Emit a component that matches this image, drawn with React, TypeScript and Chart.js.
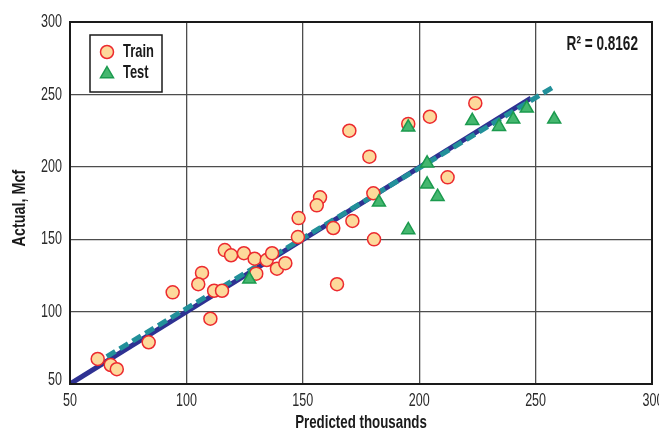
import React, { useEffect, useRef } from "react";
import { Chart, registerables } from "chart.js";

Chart.register(...registerables);

const trainX = [61.9, 67.5, 70.1, 83.8, 94.1, 106.7, 105.1, 110.3, 111.9, 115.3, 116.5, 119.2, 124.7, 129.3, 130.0, 134.5, 136.8, 138.9, 142.5, 147.9, 148.2, 163.1, 171.3, 157.4, 156.0, 180.3, 180.6, 164.7, 170.0, 178.6, 195.3, 204.6, 224.1, 212.2];
const trainY = [67.3, 63.1, 60.2, 78.8, 113.3, 126.7, 118.9, 95.1, 114.4, 114.4, 142.5, 138.9, 140.3, 136.5, 126.2, 135.6, 140.3, 129.6, 133.4, 151.5, 164.6, 157.7, 162.6, 178.9, 173.4, 181.7, 149.9, 118.9, 224.9, 207.0, 229.6, 234.6, 243.9, 192.7];
const testX = [127.0, 182.7, 195.3, 195.3, 203.4, 203.4, 207.9, 222.8, 234.3, 240.4, 246.2, 258.0];
const testY = [122.3, 175.5, 156.4, 227.3, 202.4, 187.9, 179.4, 231.8, 227.7, 232.8, 240.4, 232.8];
const oneToOneX = [50, 248];
const oneToOneY = [50, 247.5];
const trendX = [65.8, 258.3];
const trendY = [68.9, 255.8];
const xTicks = [50, 100, 150, 200, 250, 300];
const yTicks = [50, 100, 150, 200, 250, 300];
const xTitle = "Predicted thousands";
const yTitle = "Actual, Mcf";
const r2Label = "R\u00B2 = 0.8162";
const legendLabels = ["Train", "Test"];

const FONT = "'Liberation Sans', Arial, sans-serif";

const pts = (xs: number[], ys: number[]) => xs.map((x, i) => ({ x, y: ys[i] }));

function text(
  ctx: CanvasRenderingContext2D,
  s: string,
  x: number,
  y: number,
  o: { size: number; bold?: boolean; sx: number; align: CanvasTextAlign; rot?: number; color?: string }
) {
  ctx.save();
  ctx.translate(x, y);
  if (o.rot) ctx.rotate(o.rot);
  ctx.scale(o.sx, 1);
  ctx.font = `${o.bold ? "bold " : ""}${o.size}px ${FONT}`;
  ctx.fillStyle = o.color || "#1a1a1a";
  ctx.textAlign = o.align;
  ctx.textBaseline = "middle";
  ctx.fillText(s, 0, 0);
  ctx.restore();
}

const overlayPlugin = {
  id: "overlay",
  afterDraw(chart: any) {
    const { ctx, chartArea } = chart;
    const xs = chart.scales.x;
    const ys = chart.scales.y;
    ctx.save();
    ctx.strokeStyle = "#1a1a1a";
    ctx.lineWidth = 2;
    ctx.strokeRect(chartArea.left, chartArea.top, chartArea.right - chartArea.left, chartArea.bottom - chartArea.top);
    ys.ticks.forEach((t: any) => {
      text(ctx, String(t.value), chartArea.left - 8, ys.getPixelForValue(t.value) + (t.value === 50 ? -4 : 0), { size: 19, sx: 0.66, align: "right", color: "#2a2a2a" });
    });
    xs.ticks.forEach((t: any) => {
      text(ctx, String(t.value), xs.getPixelForValue(t.value) + (t.value === 300 ? 1 : 0), chartArea.bottom + 17, { size: 19, sx: 0.66, align: "center", color: "#2a2a2a" });
    });
    text(ctx, xTitle, (chartArea.left + chartArea.right) / 2, chartArea.bottom + 39, { size: 18, bold: true, sx: 0.74, align: "center" });
    text(ctx, yTitle, 20, (chartArea.top + chartArea.bottom) / 2 + 5, { size: 18, bold: true, sx: 0.8, align: "center", rot: -Math.PI / 2 });
    const bx = chartArea.left + 20, by = chartArea.top + 13, bw = 72, bh = 57;
    ctx.fillStyle = "#ffffff";
    ctx.fillRect(bx, by, bw, bh);
    ctx.lineWidth = 1.5;
    ctx.strokeStyle = "#1a1a1a";
    ctx.strokeRect(bx, by, bw, bh);
    const ds0 = chart.data.datasets[0];
    const ds1 = chart.data.datasets[1];
    ctx.beginPath();
    ctx.arc(bx + 17, by + 17, 6.5, 0, Math.PI * 2);
    ctx.fillStyle = ds0.backgroundColor;
    ctx.fill();
    ctx.lineWidth = 1.5;
    ctx.strokeStyle = ds0.borderColor;
    ctx.stroke();
    const tx = bx + 17, ty = by + 39, r = 7.5;
    ctx.beginPath();
    ctx.moveTo(tx, ty - r);
    ctx.lineTo(tx + r * 0.866, ty + r * 0.5);
    ctx.lineTo(tx - r * 0.866, ty + r * 0.5);
    ctx.closePath();
    ctx.fillStyle = ds1.backgroundColor;
    ctx.fill();
    ctx.strokeStyle = ds1.borderColor;
    ctx.stroke();
    text(ctx, legendLabels[0], bx + 33, by + 17, { size: 19, bold: true, sx: 0.68, align: "left" });
    text(ctx, legendLabels[1], bx + 33, by + 38, { size: 19, bold: true, sx: 0.68, align: "left" });
    text(ctx, r2Label, chartArea.right - 14, chartArea.top + 22, { size: 20, bold: true, sx: 0.68, align: "right" });
    ctx.restore();
  },
};

export default function App() {
  const ref = useRef<HTMLCanvasElement>(null);
  useEffect(() => {
    if (!ref.current) return;
    const chart = new Chart(ref.current, {
      type: "scatter",
      data: {
        datasets: [
          {
            label: legendLabels[0],
            data: pts(trainX, trainY),
            backgroundColor: "#FDD99B",
            borderColor: "#EC2A2F",
            borderWidth: 1.5,
            pointRadius: 6.5,
            pointHoverRadius: 6.5,
            order: 1,
          },
          {
            label: legendLabels[1],
            data: pts(testX, testY),
            backgroundColor: "#45B76F",
            borderColor: "#1B9A4E",
            borderWidth: 1.5,
            pointStyle: "triangle",
            pointRadius: 7.5,
            pointHoverRadius: 7.5,
            order: 0,
          },
          {
            label: "trend",
            data: pts(trendX, trendY),
            showLine: true,
            borderColor: "#22909A",
            borderWidth: 5,
            borderDash: [10, 5],
            pointRadius: 0,
            order: 2,
          },
          {
            label: "1:1",
            data: pts(oneToOneX, oneToOneY),
            showLine: true,
            borderColor: "#2E3192",
            borderWidth: 5,
            pointRadius: 0,
            order: 3,
          },
        ] as any,
      },
      options: {
        animation: false,
        responsive: false,
        devicePixelRatio: 1,
        layout: { padding: { top: 22, right: 28, left: 0, bottom: 0 } },
        plugins: { legend: { display: false }, tooltip: { enabled: false } },
        scales: {
          x: {
            type: "linear",
            min: 50,
            max: 300,
            afterBuildTicks: (s: any) => { s.ticks = xTicks.map((v) => ({ value: v })); },
            afterFit: (s: any) => { s.height = 48; s.paddingLeft = 0; s.paddingRight = 0; },
            grid: { color: "#4d4d4d", lineWidth: 1.3, drawTicks: false },
            border: { display: false },
            ticks: { display: false },
            title: { display: false },
          },
          y: {
            type: "linear",
            min: 50,
            max: 300,
            afterBuildTicks: (s: any) => { s.ticks = yTicks.map((v) => ({ value: v })); },
            afterFit: (s: any) => { s.width = 70; s.paddingTop = 0; s.paddingBottom = 0; },
            grid: { color: "#4d4d4d", lineWidth: 1.3, drawTicks: false },
            border: { display: false },
            ticks: { display: false },
            title: { display: false },
          },
        },
      },
      plugins: [overlayPlugin],
    });
    return () => chart.destroy();
  }, []);
  return (
    <div style={{ position: "absolute", left: 0, top: 0, width: 659, height: 432, overflow: "hidden", background: "#fff" }}>
      <canvas ref={ref} width={680} height={432} style={{ display: "block" }} />
    </div>
  );
}
